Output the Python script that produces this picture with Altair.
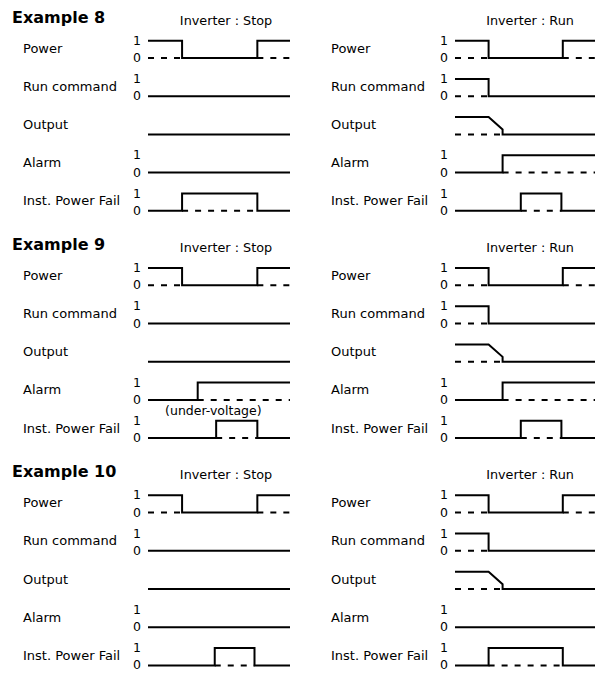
import altair as alt
import pandas as pd

# ---------------- data: timing states (time 0..100, level 0/1) ----------------
EXAMPLES = ["Example 8", "Example 9", "Example 10"]
MODES = ["Inverter : Stop", "Inverter : Run"]
SIGNALS = ["Power", "Run command", "Output", "Alarm", "Inst. Power Fail"]
HAS_LEVEL_TICKS = [True, True, False, True, True]
LEVEL_TICKS = ["1", "0"]
NOTE_TEXT = "(under-voltage)"
NOTE_TIME = 46

POWER = [(0, 1), (24, 1), (24, 0), (77, 0), (77, 1), (100, 1)]
POWER_DASH = [[(0, 0), (24, 0)], [(77, 0), (100, 0)]]
LOW = [(0, 0), (100, 0)]
RUN_STOP = [(0, 1), (24, 1), (24, 0), (100, 0)]
RUN_STOP_DASH = [[(0, 0), (24, 0)]]
OUT_DECEL = [(0, 1), (24, 1), (34, 0.28), (34, 0), (100, 0)]
OUT_DECEL_DASH = [[(0, 0), (34, 0)]]
ALARM_RUN = [(0, 0), (34, 0), (34, 1), (100, 1)]
ALARM_RUN_DASH = [[(34, 0), (100, 0)]]
ALARM_EX9_STOP = [(0, 0), (35, 0), (35, 1), (100, 1)]
ALARM_EX9_STOP_DASH = [[(35, 0), (100, 0)]]
IPF_EX8_STOP = [(0, 0), (24, 0), (24, 1), (77, 1), (77, 0), (100, 0)]
IPF_EX8_STOP_DASH = [[(24, 0), (77, 0)]]
IPF_RUN_SHORT = [(0, 0), (47, 0), (47, 1), (76, 1), (76, 0), (100, 0)]
IPF_RUN_SHORT_DASH = [[(47, 0), (76, 0)]]
IPF_EX9_STOP = [(0, 0), (48, 0), (48, 1), (77, 1), (77, 0), (100, 0)]
IPF_EX9_STOP_DASH = [[(48, 0), (77, 0)]]
IPF_EX10_STOP = [(0, 0), (47, 0), (47, 1), (75, 1), (75, 0), (100, 0)]
IPF_EX10_STOP_DASH = [[(47, 0), (75, 0)]]
IPF_EX10_RUN = [(0, 0), (24, 0), (24, 1), (77, 1), (77, 0), (100, 0)]
IPF_EX10_RUN_DASH = [[(24, 0), (77, 0)]]

# (example index, mode index) -> list of (solid, dashed) per signal
PANELS = {
    (0, 0): [(POWER, POWER_DASH), (LOW, []), (LOW, []), (LOW, []), (IPF_EX8_STOP, IPF_EX8_STOP_DASH)],
    (0, 1): [(POWER, POWER_DASH), (RUN_STOP, RUN_STOP_DASH), (OUT_DECEL, OUT_DECEL_DASH),
             (ALARM_RUN, ALARM_RUN_DASH), (IPF_RUN_SHORT, IPF_RUN_SHORT_DASH)],
    (1, 0): [(POWER, POWER_DASH), (LOW, []), (LOW, []), (ALARM_EX9_STOP, ALARM_EX9_STOP_DASH),
             (IPF_EX9_STOP, IPF_EX9_STOP_DASH)],
    (1, 1): [(POWER, POWER_DASH), (RUN_STOP, RUN_STOP_DASH), (OUT_DECEL, OUT_DECEL_DASH),
             (ALARM_RUN, ALARM_RUN_DASH), (IPF_RUN_SHORT, IPF_RUN_SHORT_DASH)],
    (2, 0): [(POWER, POWER_DASH), (LOW, []), (LOW, []), (LOW, []), (IPF_EX10_STOP, IPF_EX10_STOP_DASH)],
    (2, 1): [(POWER, POWER_DASH), (RUN_STOP, RUN_STOP_DASH), (OUT_DECEL, OUT_DECEL_DASH),
             (LOW, []), (IPF_EX10_RUN, IPF_EX10_RUN_DASH)],
}

# ---------------- layout (page pixel frame) ----------------
WAVE_X = [(148, 290), (455, 595)]
LABEL_X = [23, 331]
TITLE_X = [226, 530]
HEAD_X = 12
LOW0, BLOCK_STEP, ROW_STEP, SWING = 58.0, 227.3, 38.2, 17.3


def low_y(b, r):
    return LOW0 + BLOCK_STEP * b + ROW_STEP * r


def tx(c, t):
    x0, x1 = WAVE_X[c]
    return x0 + (x1 - x0) * t / 100.0


def ty(b, r, lvl):
    return low_y(b, r) - SWING * lvl


rows = []
seg = 0
for (b, c), sigs in PANELS.items():
    for r, (solid, dashes) in enumerate(sigs):
        for style, paths in (("solid", [solid]), ("dash", dashes)):
            for path in paths:
                seg += 1
                for k, (t, lvl) in enumerate(path):
                    rows.append(dict(x=tx(c, t), y=ty(b, r, lvl), seg=seg, ord=k, style=style))
lines = pd.DataFrame(rows)

heads, titles, labels, ticks, notes = [], [], [], [], []
for b, name in enumerate(EXAMPLES):
    top = low_y(b, 0) - SWING
    heads.append(dict(x=HEAD_X, y=top - 23, text=name))
    for c, mode in enumerate(MODES):
        titles.append(dict(x=TITLE_X[c], y=top - 20, text=mode))
        for r, sname in enumerate(SIGNALS):
            labels.append(dict(x=LABEL_X[c], y=low_y(b, r) - 9.5, text=sname))
            if HAS_LEVEL_TICKS[r]:
                for lvl, lab in zip((1, 0), LEVEL_TICKS):
                    ticks.append(dict(x=WAVE_X[c][0] - 7, y=ty(b, r, lvl), text=lab))
notes.append(dict(x=tx(0, NOTE_TIME), y=low_y(1, 3) + 11, text=NOTE_TEXT))

# chart spans page x 8..595 and y 8..673 (page has an 8px margin)
W, H = 587, 665
xs = alt.Scale(domain=[8, 8 + W], nice=False, zero=False)
ys = alt.Scale(domain=[8, 8 + H], nice=False, zero=False, reverse=True)
X = alt.X("x:Q", scale=xs, axis=None)
Y = alt.Y("y:Q", scale=ys, axis=None)
FONT = "DejaVu Sans"

solid_layer = alt.Chart(lines[lines["style"] == "solid"]).mark_line(
    color="black", strokeWidth=2, strokeJoin="miter"
).encode(x=X, y=Y, detail="seg:N", order="ord:Q")

dash_layer = alt.Chart(lines[lines["style"] == "dash"]).mark_line(
    color="black", strokeWidth=2, strokeDash=[6, 7]
).encode(x=X, y=Y, detail="seg:N", order="ord:Q")


def text_layer(df, **kw):
    return alt.Chart(pd.DataFrame(df)).mark_text(color="black", font=FONT, **kw).encode(
        x=X, y=Y, text="text:N"
    )


chart = alt.layer(
    solid_layer,
    dash_layer,
    text_layer(heads, align="left", baseline="middle", fontSize=16, fontWeight="bold"),
    text_layer(titles, align="center", baseline="middle", fontSize=12.8),
    text_layer(labels, align="left", baseline="middle", fontSize=13),
    text_layer(ticks, align="right", baseline="middle", fontSize=12.5),
    text_layer(notes, align="center", baseline="middle", fontSize=12.5),
).properties(
    width=W, height=H, padding=0, autosize=alt.AutoSizeParams(type="none")
).configure_view(stroke=None)

chart.save("out.html", embed_options={"renderer": "svg", "actions": False})
